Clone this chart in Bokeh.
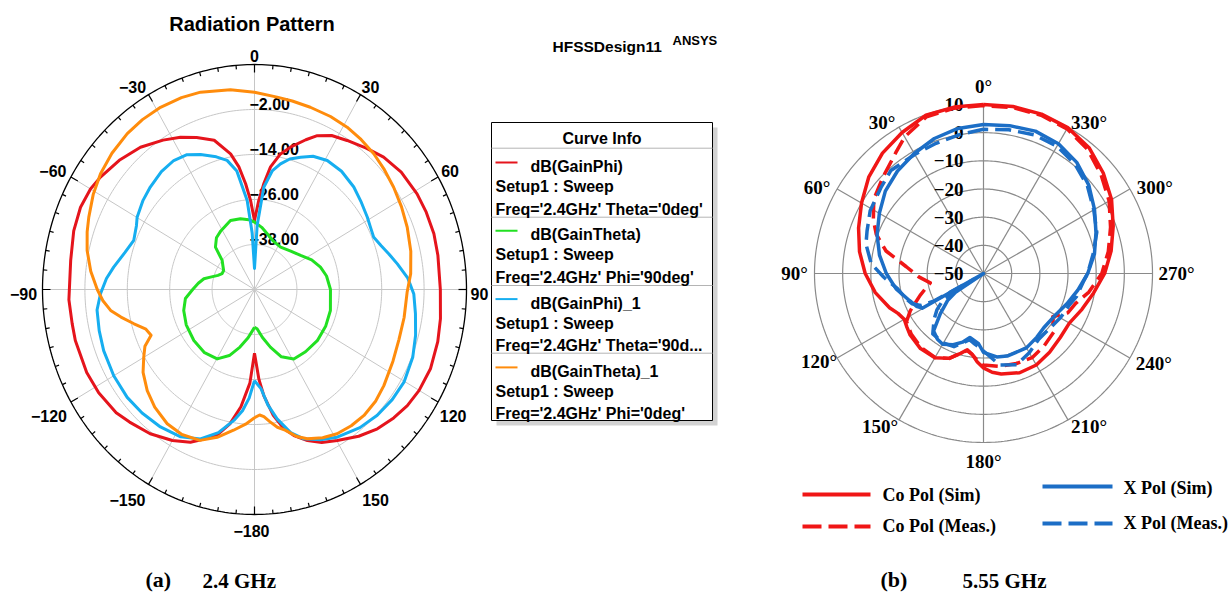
import numpy as np
from bokeh.plotting import figure
from bokeh.models import Range1d
from bokeh.core.properties import value
from bokeh.embed import file_html
from bokeh.resources import INLINE

# ---------------- data: (a) 2.4 GHz, HFSS (theta deg, dB) ----------------
gphi_ang = [-180,-177,-173,-169,-165,-160,-156,-150,-142.5,-135,-130,-122,-115,-105,-100,-93,-81.5,-73,-66,-60,
            -55.5,-48,-40.4,-33,-27.3,-22,-16,-10.6,-7.7,-5.1,-2.7,0,2.9,5.3,7.9,11.5,15,20,23.4,28,
            33.4,40,46,53,61,67,73.7,80,90,98.4,105,113,120,125.6,131,136.9,143,149.8,155,159.6,
            164,167.4,171,174.7,177,180]
gphi_db = [-33,-25,-18.5,-13.5,-10,-7.5,-5.4,-3.5,-1.5,0,1.1,2,2.4,2.5,2.4,2.6,2.6,3.5,3.9,3.6,
           2.9,1.5,-0.2,-2.5,-4.3,-6.3,-8.6,-13.2,-17,-21.7,-26.2,-31.6,-26.2,-21.7,-17,-13.1,-10.7,-7.5,-5.3,-3.5,
           -2.4,-0.8,0.8,2,2.6,2.8,2.9,2.7,2.6,3.2,3.7,4.1,3.8,3.2,2.2,0.9,-1,-3.4,-5,-7,
           -9.5,-12,-16,-21.6,-26,-33]

gtheta_ang = [-180,-172,-165,-158,-150.3,-140,-128.4,-116,-105.6,-97,-90,-84,-78.7,-75.2,-70,-65.3,-59.9,-54.5,-49.7,-44.4,
              -38,-31.4,-20.3,-11.9,-5,0,7,13.6,22,33.2,45,55.2,64,72.3,80,90,104.6,116,127.5,139,
              149,157,163.7,170,176,180]
gtheta_db = [-39.9,-37,-34.1,-31,-28.7,-28,-28.1,-28.5,-29.2,-30.3,-32.5,-34,-35.4,-37.1,-39,-39.9,-39.9,-39,-38,-34.2,
             -32.5,-31.7,-30.4,-30.7,-31.3,-32,-33.3,-34.7,-36,-36.5,-35.5,-34.1,-32,-30.4,-29.3,-28.5,-27.8,-27.6,-27.6,-28,
             -28.4,-30.5,-34,-37,-39.5,-39.9]

gphi1_ang = [-180,-177,-174,-170.5,-165,-159,-152,-144,-136,-128.6,-120,-110.9,-104,-97,-91.5,-86,-81.5,-75,-69,-63,
             -59.9,-53,-47.2,-40,-33.6,-28,-23,-17,-12.7,-9,-5,-2.5,0,2.5,5.5,9,12.4,16,20.3,25,
             30.9,38,45.8,52,58.9,63,67.6,72,76,80.4,86,91.5,98,105,112,120.3,127,134,141,149.3,
             155,160.7,165,169.5,173,176,180]
gphi1_db = [-25.7,-21,-17.5,-14.6,-10.5,-7.3,-5.5,-4.7,-4.2,-3.9,-4,-4.3,-4.7,-5.1,-6.4,-8,-9.7,-12,-13.4,-12.5,
            -11.6,-10.5,-9.8,-9,-8.7,-9.3,-10.9,-13,-14.7,-18,-26.2,-35,-44.4,-33,-22.6,-18,-15.7,-13.8,-12.4,-10.8,
            -9.9,-10,-10.8,-11.8,-12.7,-13.2,-13.5,-12.3,-10.8,-9,-6.5,-4.9,-4,-2.8,-1.7,-1,-1.2,-1.7,-2.6,-4.2,
            -5.8,-7.8,-10.5,-14.9,-19,-23.5,-25.7]

gtheta1_ang = [-180,-176,-171,-165,-159,-152,-145.4,-138,-131.6,-125,-120,-116,-112.6,-109,-105,-101,-97.8,-94,-90,-84,
               -77.6,-72,-67.7,-61,-54.7,-48,-40.9,-35,-28.7,-22,-16.2,-7.3,0,7.1,12,18,25,31.2,37,43,
               49,55.3,62,69,77,84.6,91,100,108,116,125,131,137.3,143,148.7,154,159.4,163,167,170,
               173,175.5,177.5,180]
gtheta1_db = [-15.8,-14,-12,-9.2,-6.9,-6.2,-6.5,-7.8,-9.4,-11.5,-13.8,-15.5,-18.3,-17.5,-14.7,-11.5,-8.9,-7,-5.5,-3.4,
              -1.5,-0.2,0.7,2.2,3.4,4.3,5,5.3,5.4,5.2,4.8,3.7,2.6,1.7,1.4,1.1,0.9,0.6,0.1,-0.5,
              -1.3,-2.1,-2.9,-3.7,-4.6,-5.6,-6.8,-7,-7,-6.4,-5.3,-4.6,-4.3,-4.5,-5,-6,-7.5,-9,-11.5,-12.7,
              -14.5,-16,-16.5,-15.8]

# ---------------- data: (b) 5.55 GHz (angle deg, dB) ----------------
co_sim_ang = [0,10,20,30,40,50,60,70,80,90,100,110,115,120,125,130,140,150,158,164,168,172,176,180,185,
              190,200,210,220,230,240,250,260,270,280,290,300,310,320,330,340,350,360]
co_sim_db = [10,10,9.8,7.8,5.8,3.2,0,-2.8,-5.3,-8,-11,-14.5,-16.5,-17.5,-16.8,-16,-15.2,-15.5,-17.5,-20.5,-22.3,-21,-18.5,-16.5,-14.8,
             -13.8,-12.5,-12.5,-13.5,-14.5,-14.8,-12.8,-10.3,-7,-4,-1,2.5,5.5,8.3,9.8,10.2,10.2,10]

co_meas_ang = [0,10,20,30,36,46,56,64,70,77,85,93,100,104,109,117,122,130,140,150,158,164,168,172,176,
               180,190,200,210,220,230,238,245,252,260,270,280,290,300,310,320,330,340,350,360]
co_meas_db = [9.6,9.6,9.2,6,3,-0.5,-3,-6.5,-9.5,-14.5,-22.5,-27,-30.8,-29,-26.2,-20.8,-17.8,-16.5,-15.6,-15.6,-17.5,-20.5,-22,-21,-19,
              -17.5,-16.5,-16,-15.5,-16.5,-17.5,-21,-17,-15.6,-12,-8,-5,-2,1.5,4.5,7.5,9.3,9.8,9.8,9.6]

x_sim_ang = [0,10,20,30,40,50,60,70,80,90,100,110,116,119.5,121,124,127,133,139,145,150,157,163,168,172,
             176,180,189,196,210,220,228,240,250,260,270,280,290,300,310,320,330,340,350,360]
x_sim_db = [2.9,2.3,1,-0.8,-2.5,-4.5,-7.3,-9.8,-12.5,-15.5,-18.5,-22,-23.5,-25,-50,-38,-34,-29,-23,-21.5,-21,-22.5,-24.5,-26.8,-26,
            -25,-22,-20,-19.5,-19.5,-20.5,-21.2,-20.5,-18.5,-16,-13,-10,-7.5,-4.5,-1.2,1.5,3.2,3.8,3.3,2.9]

x_meas_ang = [0,10,20,30,42,50,61,70,76,85,92,100,108,113,117,119,120.5,123,128,133,140,150,158,164,168,
              172,176,180,190,200,210,220,230,240,250,256,265,270,280,290,300,310,320,330,340,350,360]
x_meas_db = [1.2,0,-0.8,-1.2,-0.8,-2.5,-4,-6,-7,-10,-14.5,-19,-21,-22.5,-25,-30,-46,-33,-29,-26,-22,-21.5,-22,-24.5,-26,
             -25,-24,-22.5,-17,-15.5,-17.5,-19.5,-19.5,-18.5,-17.5,-16,-14.5,-13,-10.5,-7.2,-4.8,-1.8,0.6,2.2,2.4,1.8,1.2]

left_rings = [-38, -26, -14, -2]
left_ring_labels = ["\u221238.00", "\u221226.00", "\u221214.00", "\u22122.00"]
left_angles = [0, 30, 60, 90, 120, 150, 180, -150, -120, -90, -60, -30]
left_angle_labels = ["0", "30", "60", "90", "120", "150", "\u2212180", "\u2212150", "\u2212120", "\u221290", "\u221260", "\u221230"]
right_rings = [-40, -30, -20, -10, 0, 10]
right_ring_labels = ["10", "0", "\u221210", "\u221220", "\u221230", "\u221240", "\u221250"]
right_ring_label_vals = [10, 0, -10, -20, -30, -40, -50]
right_angles = list(range(0, 360, 30))
right_angle_labels = [f"{a}\u00b0" for a in right_angles]

legend_names = ["dB(GainPhi)", "dB(GainTheta)", "dB(GainPhi)_1", "dB(GainTheta)_1"]
legend_freq = ["Freq='2.4GHz' Theta='0deg'", "Freq='2.4GHz' Phi='90deg'",
               "Freq='2.4GHz' Theta='90d...", "Freq='2.4GHz' Phi='0deg'"]

# ---------------- styles ----------------
C_RED, C_GREEN, C_BLUE, C_ORANGE = "#e5141c", "#22e022", "#16aef0", "#ff8c0c"
R_RED, R_BLUE = "#f01616", "#1c6ec6"
SANS, SERIF = "Liberation Sans", "Liberation Serif"

W, H = 1229, 592
p = figure(width=W, height=H, x_range=Range1d(0, W), y_range=Range1d(H, 0),
           output_backend="svg", toolbar_location=None, min_border=0,
           x_axis_location=None, y_axis_location=None)
p.grid.visible = False
p.outline_line_color = None
p.background_fill_color = "white"
p.border_fill_color = "white"

LCX, LCY, LRX, LRY = 254.0, 289.0, 212.0, 225.0
RCX, RCY, RR = 983.0, 273.0, 169.0


def lxy(th, db):
    t = np.radians(np.asarray(th, float))
    r = (np.asarray(db, float) + 50.0) / 60.0
    return LCX + LRX * r * np.sin(t), LCY - LRY * r * np.cos(t)


def rxy(th, db):
    t = np.radians(np.asarray(th, float))
    r = (np.asarray(db, float) + 50.0) / 60.0
    return RCX - RR * r * np.sin(t), RCY - RR * r * np.cos(t)


def txt(x, y, s, size, font=SANS, align="center", baseline="middle", color="black", style="bold"):
    p.text(x=[x], y=[y], text=[s], text_font=value(font), text_font_size=value(size),
           text_font_style=style, text_align=align, text_baseline=baseline, text_color=color)


full = np.arange(0, 361, 1.0)

# ---------------- left polar grid ----------------
for v in left_rings:
    x, y = lxy(full, np.full_like(full, v))
    p.line(x, y, line_color="#c6c6c6", line_width=1)
for a in range(0, 360, 30):
    x, y = lxy([a, a], [-50, 10])
    p.line(x, y, line_color="#c6c6c6", line_width=1)
x, y = lxy(full, np.full_like(full, 10))
p.line(x, y, line_color="black", line_width=1.3)
tx0, ty0, tx1, ty1 = [], [], [], []
for a in range(0, 360, 5):
    L = 8 if a % 30 == 0 else 4
    t = np.radians(a)
    tx0.append(LCX + LRX * np.sin(t)); ty0.append(LCY - LRY * np.cos(t))
    tx1.append(LCX + (LRX - L) * np.sin(t)); ty1.append(LCY - (LRY - L) * np.cos(t))
p.segment(tx0, ty0, tx1, ty1, line_color="black", line_width=1.2)

left_offsets = [(0, -9), (10, -8), (12, -6), (13, 4), (15, 14), (15, 16), (-3, 16),
                (-21, 16), (-22, 14), (-19, 4), (-18, -6), (-16, -8)]
for a, s, (dx, dy) in zip(left_angles, left_angle_labels, left_offsets):
    x, y = lxy(a, 10)
    txt(float(x) + dx, float(y) + dy, s, "16px")

for v, s in zip(left_rings, left_ring_labels):
    _, y = lxy(0, v)
    txt(249, float(y) - 6, s, "16px", align="left")

# ---------------- left curves ----------------
for ang, db, col in [(gphi_ang, gphi_db, C_RED), (gtheta_ang, gtheta_db, C_GREEN),
                     (gphi1_ang, gphi1_db, C_BLUE), (gtheta1_ang, gtheta1_db, C_ORANGE)]:
    x, y = lxy(ang, db)
    p.line(x, y, line_color=col, line_width=3, line_join="round")

# ---------------- left texts / legend ----------------
txt(251.5, 23, "Radiation Pattern", "20px")
txt(552, 46, "HFSSDesign11", "15.5px", align="left")
txt(672, 40, "ANSYS", "13px", align="left")

p.quad(left=[496], right=[717], top=[127], bottom=[425], fill_color="#d2d2d2", line_color=None)
p.quad(left=[491], right=[712], top=[122], bottom=[420], fill_color="white", line_color="black", line_width=1)
txt(601.5, 138, "Curve Info", "16px")
for yy in [147.7, 216.7, 285, 352.7]:
    p.segment([491], [yy], [712], [yy], line_color="#b4b4b4", line_width=1)
for i, (nm, fq, col) in enumerate(zip(legend_names, legend_freq, [C_RED, C_GREEN, C_BLUE, C_ORANGE])):
    base = 162 + 68.3 * i
    p.segment([495], [base], [517], [base], line_color=col, line_width=2)
    txt(530, base + 4, nm, "16px", align="left")
    txt(495, base + 24, "Setup1 : Sweep", "16px", align="left")
    txt(495, base + 46.5, fq, "16px", align="left")

# ---------------- right polar grid ----------------
for v in right_rings:
    x, y = rxy(full, np.full_like(full, v))
    p.line(x, y, line_color="#8a8a8a", line_width=1.2)
for a in range(0, 360, 30):
    x, y = rxy([a, a], [-50, 10])
    p.line(x, y, line_color="#8a8a8a", line_width=1.2)

right_offsets = [(0, -18), (-17, -5), (-20, -2), (-20, 0), (-18, 3), (-19, 7), (0, 19),
                 (21, 7), (24, 5), (24, 0), (25, -2), (21, -5)]
for a, s, (dx, dy) in zip(right_angles, right_angle_labels, right_offsets):
    x, y = rxy(a, 10)
    txt(float(x) + dx, float(y) + dy, s, "19px", font=SERIF)

for v, s in zip(right_ring_label_vals, right_ring_labels):
    _, y = rxy(0, v)
    txt(963, float(y), s, "19px", font=SERIF, align="right")

# ---------------- right curves ----------------
for ang, db, col, dash in [(co_sim_ang, co_sim_db, R_RED, "solid"), (co_meas_ang, co_meas_db, R_RED, "16 7"),
                           (x_sim_ang, x_sim_db, R_BLUE, "solid"), (x_meas_ang, x_meas_db, R_BLUE, "16 7")]:
    x, y = rxy(ang, db)
    p.line(x, y, line_color=col, line_width=3.5, line_dash=dash, line_join="round")

# ---------------- right legend ----------------
p.segment([802], [494], [870], [494], line_color=R_RED, line_width=4)
p.segment([802], [526], [870], [526], line_color=R_RED, line_width=4, line_dash="19 7")
p.segment([1042], [486], [1112], [486], line_color=R_BLUE, line_width=4)
p.segment([1042], [523], [1112], [523], line_color=R_BLUE, line_width=4, line_dash="19 7")
txt(882, 494, "Co Pol (Sim)", "18px", font=SERIF, align="left")
txt(882, 525, "Co Pol (Meas.)", "18px", font=SERIF, align="left")
txt(1123, 487, "X Pol (Sim)", "18px", font=SERIF, align="left")
txt(1123, 522, "X Pol (Meas.)", "18px", font=SERIF, align="left")

# ---------------- captions ----------------
txt(145, 579, "(a)", "22px", font=SERIF, align="left")
txt(202, 580, "2.4 GHz", "21px", font=SERIF, align="left")
txt(880, 579, "(b)", "22px", font=SERIF, align="left")
txt(962, 580, "5.55 GHz", "21px", font=SERIF, align="left")

open("out.html", "w").write(file_html(p, INLINE))
